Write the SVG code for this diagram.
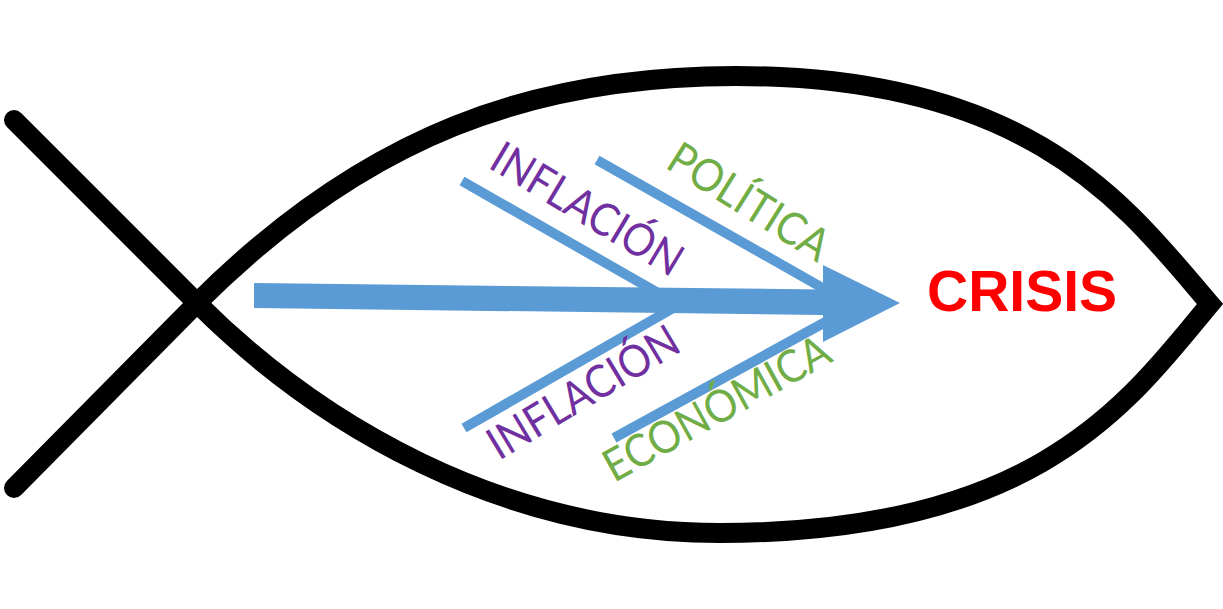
<svg xmlns="http://www.w3.org/2000/svg" width="1223" height="609" viewBox="0 0 1223 609">
  <style>
    .fish { fill: none; stroke: #000000; stroke-width: 20; stroke-linecap: round; stroke-linejoin: miter; stroke-miterlimit: 10; }
    .bone { fill: none; stroke: #5B9BD5; stroke-width: 10; stroke-linecap: butt; }
    .spine { fill: #5B9BD5; stroke: none; }
    .lbl { font-family: Lato, "Open Sans", "DejaVu Sans", sans-serif; font-size: 45px; }
    .purple { fill: #7030A0; }
    .green { fill: #70AD47; }
    .crisis { font-family: "Liberation Sans", Arial, sans-serif; font-weight: bold; font-size: 57px; fill: #FF0000; }
  </style>
  <rect width="1223" height="609" fill="#FFFFFF"/>
  <g id="fish">
    <path class="fish" d="M14,120 L197,303 C317,423 500,533 720,533 C1040,533 1130,400 1210,304 C1130,211 1036,76 736,76 C536,76 367,133 197,303 L14,488"/>
  </g>
  <g id="connectors">
    <line class="bone" x1="462" y1="181" x2="660" y2="294"/>
    <line class="bone" x1="597" y1="160" x2="835" y2="295"/>
    <line class="bone" x1="464" y1="428" x2="675" y2="307"/>
    <line class="bone" x1="614" y1="438" x2="840" y2="314"/>
    <polygon class="spine" points="254,283 823,289.5 823,265 900,303 823,342 823,315 254,308"/>
  </g>
  <g id="label-inflacion-top">
    <text class="lbl purple" x="487" y="167" transform="rotate(31 487 167)" textLength="215" lengthAdjust="spacingAndGlyphs">INFLACIÓN</text>
  </g>
  <g id="label-politica">
    <text class="lbl green" x="664" y="167" transform="rotate(32 664 167)" textLength="181" lengthAdjust="spacingAndGlyphs">POLÍTICA</text>
  </g>
  <g id="label-inflacion-bottom">
    <text class="lbl purple" x="499" y="461" transform="rotate(-31 499 461)" textLength="215" lengthAdjust="spacingAndGlyphs">INFLACIÓN</text>
  </g>
  <g id="label-economica">
    <text class="lbl green" x="614" y="483" transform="rotate(-29 614 483)" textLength="252" lengthAdjust="spacingAndGlyphs">ECONÓMICA</text>
  </g>
  <g id="node-crisis">
    <text class="crisis" x="927" y="311">CRISIS</text>
  </g>
</svg>
